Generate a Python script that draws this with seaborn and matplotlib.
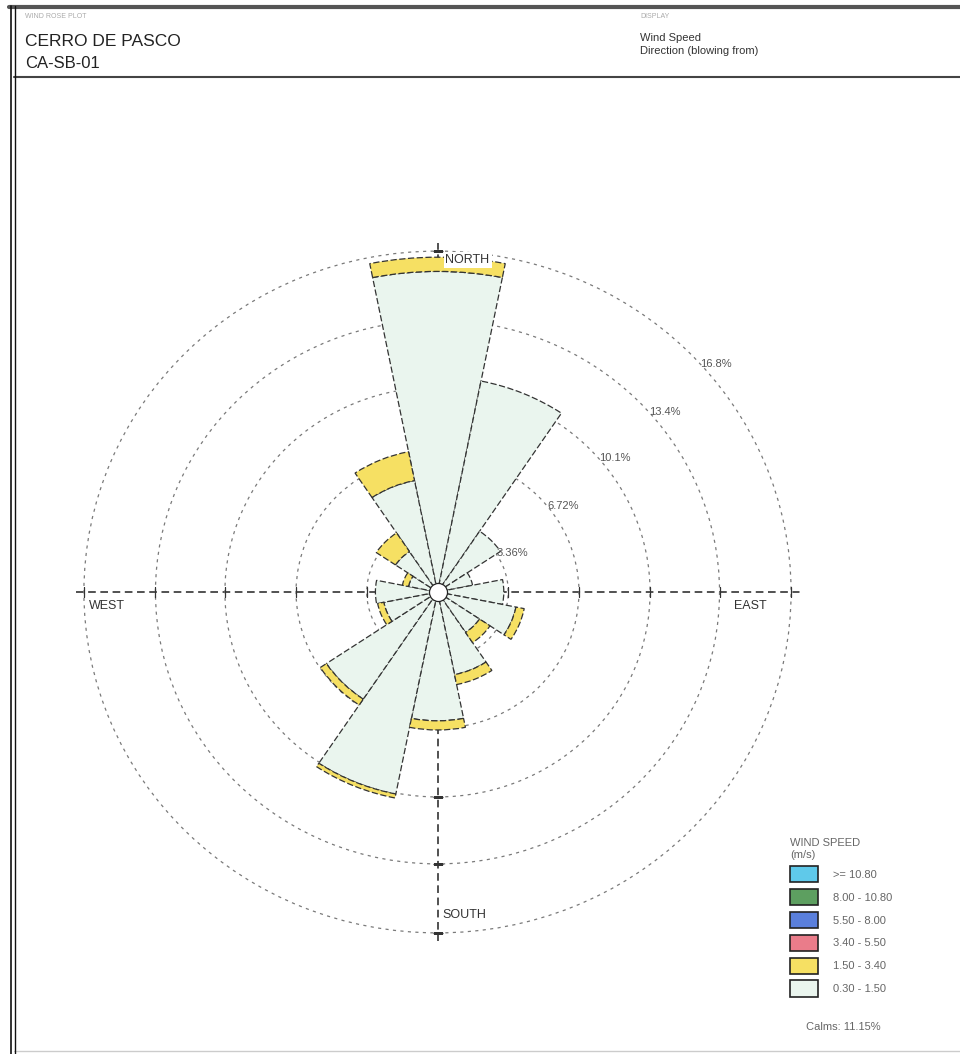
# wind rose - CERRO DE PASCO, station CA-SB-01

import numpy as np
import pandas as pd
import matplotlib
matplotlib.use('Agg')
import matplotlib.pyplot as plt
import seaborn as sns
from matplotlib.patches import Patch
from matplotlib.lines import Line2D

sns.set_style("white")
plt.rcParams['font.family'] = ['Liberation Sans', 'DejaVu Sans']

# frequencies (%) per direction
directions = ['N', 'NNE', 'NE', 'ENE', 'E', 'ESE', 'SE', 'SSE',
              'S', 'SSW', 'SW', 'WSW', 'W', 'WNW', 'NW', 'NNW']
speed_030_150 = [15.8, 10.6, 3.6, 1.7, 3.15, 3.8, 2.4, 4.15,
                 6.35, 10.15, 6.35, 2.6, 2.95, 1.4, 2.4, 5.6]
speed_150_340 = [0.7, 0.0, 0.0, 0.0, 0.0, 0.4, 0.6, 0.5,
                 0.45, 0.2, 0.35, 0.3, 0.0, 0.3, 1.1, 1.45]

ring_values = [3.36, 6.72, 10.1, 13.4, 16.8]
ring_labels = ['3.36%', '6.72%', '10.1%', '13.4%', '16.8%']

legend_labels = ['>= 10.80', '8.00 - 10.80', '5.50 - 8.00',
                 '3.40 - 5.50', '1.50 - 3.40', '0.30 - 1.50']
legend_colors = ['#5fc9ea', '#5d9f60', '#5a7fdc', '#ea7c8a', '#f6e063', '#eaf5ee']
calms = 11.15

# build a table for the bars
df = pd.DataFrame({'direction': directions,
                   'low': speed_030_150,
                   'mid': speed_150_340})
df['angle'] = np.deg2rad(np.arange(len(df)) * 360 / len(df))
width = np.deg2rad(360 / len(df))

W, H = 960, 1054
fig = plt.figure(figsize=(W / 100, H / 100), dpi=100)

# polar axes, box slightly wider than tall like the scanned original
ax = fig.add_axes([75.5 / W, 113 / H, 724 / W, 698 / H], projection='polar')
ax.set_aspect('auto')
ax.set_theta_zero_location('N')
ax.set_theta_direction(-1)
ax.set_ylim(0, 17.2)
ax.spines['polar'].set_visible(False)
ax.set_facecolor('white')

# rings and cross lines
ax.set_rgrids(ring_values, labels=[''] * len(ring_values))
ax.yaxis.grid(True, color='#7a7a7a', linestyle=(0, (2.5, 3.5)), linewidth=0.9)
ax.set_thetagrids([0, 90, 180, 270], labels=[''] * 4)
ax.xaxis.grid(True, color='#222222', linestyle=(0, (5, 3)), linewidth=1.1)
ax.set_axisbelow(True)

# small ticks where the rings cross the compass lines
ring_arr = np.array(ring_values)
for deg, mk in [(90, '|'), (270, '|'), (0, '_'), (180, '_')]:
    ax.plot(np.full(len(ring_arr), np.deg2rad(deg)), ring_arr, ls='none',
            marker=mk, ms=7, mew=0.9, color='#333333', zorder=2)

# stacked bars
edge_kw = dict(edgecolor='#333333', linewidth=0.9, linestyle=(0, (5, 2)))
ax.bar(df['angle'], df['low'], width=width, bottom=0,
       color=legend_colors[5], zorder=3, **edge_kw)
mid = df[df['mid'] > 0]
ax.bar(mid['angle'], mid['mid'], width=width, bottom=mid['low'],
       color=legend_colors[4], zorder=3, **edge_kw)

# calm circle
ax.plot(0, 0, 'o', ms=13, mfc='white', mec='#222222', mew=0.9, zorder=6)

# ring labels along a diagonal
for v, lab in zip(ring_values, ring_labels):
    ax.annotate(lab, xy=(np.deg2rad(46), v), xytext=(24, -8.5),
                textcoords='offset pixels', ha='center', va='center',
                fontsize=8, color='#555555', zorder=7)

# compass labels
box = dict(boxstyle='square,pad=0.15', fc='white', ec='none')
rmax = ring_values[-1]
ax.annotate('NORTH', xy=(0, rmax), xytext=(8, -9), textcoords='offset pixels',
            ha='left', va='center', fontsize=9, color='#333333', bbox=box, zorder=7)
ax.annotate('SOUTH', xy=(np.pi, rmax), xytext=(5, 18), textcoords='offset pixels',
            ha='left', va='center', fontsize=9, color='#333333', bbox=box, zorder=7)
ax.annotate('EAST', xy=(np.pi / 2, rmax), xytext=(-24, -14), textcoords='offset pixels',
            ha='right', va='center', fontsize=9, color='#333333', zorder=7)
ax.annotate('WEST', xy=(3 * np.pi / 2, rmax), xytext=(5, -14), textcoords='offset pixels',
            ha='left', va='center', fontsize=9, color='#333333', zorder=7)

# legend
handles = [Patch(facecolor=c, edgecolor='#222222', linewidth=1.2) for c in legend_colors]
leg = fig.legend(handles, legend_labels, loc='upper left',
                 bbox_to_anchor=(790 / W, 1 - 838 / H),
                 title='WIND SPEED\n(m/s)', alignment='left', frameon=False,
                 fontsize=8, title_fontsize=8, handlelength=2.5, handleheight=1.9,
                 labelspacing=0.58, handletextpad=1.35, borderpad=0,
                 borderaxespad=0, labelcolor='#666666')
leg.get_title().set_color('#666666')
fig.text(806 / W, 1 - 1027 / H, f'Calms: {calms:.2f}%', fontsize=8,
         color='#666666', va='center')

# page frame and header
def hline(y, x0, x1, **kw):
    fig.add_artist(Line2D([x0 / W, x1 / W], [1 - y / H, 1 - y / H], **kw))

def vline(x, y0, y1, **kw):
    fig.add_artist(Line2D([x / W, x / W], [1 - y0 / H, 1 - y1 / H], **kw))

hline(7, 9, W, color='#555555', lw=3)
hline(77, 14, W, color='#444444', lw=1.5)
hline(1051, 14, W, color='#cccccc', lw=1)
vline(10.5, 6, H, color='#111111', lw=1.2)
vline(14.5, 6, H, color='#111111', lw=1.0)

fig.text(25 / W, 1 - 17 / H, 'WIND ROSE PLOT', fontsize=5, color='#aaaaaa', va='center')
fig.text(25 / W, 1 - 42 / H, 'CERRO DE PASCO', fontsize=12.5, color='#222222', va='center')
fig.text(25 / W, 1 - 63 / H, 'CA-SB-01', fontsize=12, color='#222222', va='center')
fig.text(640 / W, 1 - 17 / H, 'DISPLAY', fontsize=5, color='#aaaaaa', va='center')
fig.text(640 / W, 1 - 38 / H, 'Wind Speed', fontsize=8, color='#333333', va='center')
fig.text(640 / W, 1 - 51 / H, 'Direction (blowing from)', fontsize=8, color='#333333', va='center')

fig.savefig('out.png', dpi=100)
